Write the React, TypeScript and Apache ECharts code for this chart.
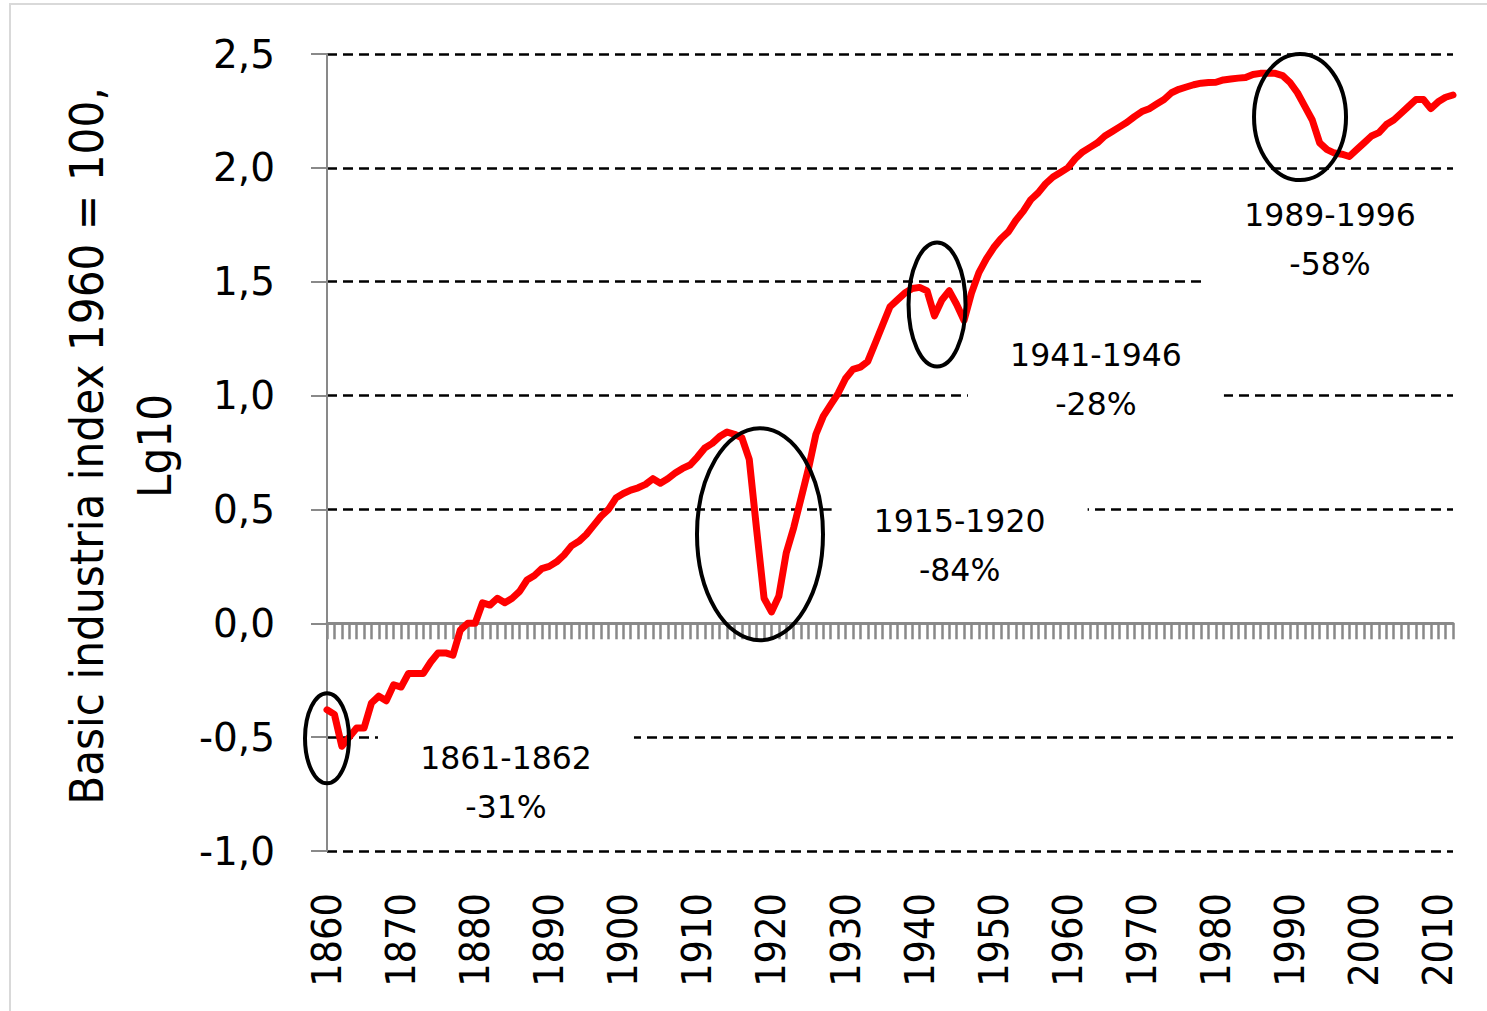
import React, { useEffect, useRef } from 'react';
import * as echarts from 'echarts';

// ---- data ----
const years: string[] = Array.from({ length: 153 }, (_, i) => String(1860 + i));

const lgIndex: number[] = [
  // 1860-1869
  -0.38, -0.40, -0.54, -0.50, -0.46, -0.46, -0.35, -0.32, -0.34, -0.27,
  // 1870-1879
  -0.28, -0.22, -0.22, -0.22, -0.17, -0.13, -0.13, -0.14, -0.03, 0.00,
  // 1880-1889
  0.00, 0.09, 0.08, 0.11, 0.09, 0.11, 0.14, 0.19, 0.21, 0.24,
  // 1890-1899
  0.25, 0.27, 0.30, 0.34, 0.36, 0.39, 0.43, 0.47, 0.50, 0.55,
  // 1900-1909
  0.57, 0.585, 0.595, 0.61, 0.635, 0.615, 0.635, 0.66, 0.68, 0.695,
  // 1910-1919
  0.73, 0.77, 0.79, 0.82, 0.84, 0.83, 0.815, 0.72, 0.41, 0.11,
  // 1920-1929
  0.05, 0.12, 0.31, 0.42, 0.55, 0.68, 0.83, 0.91, 0.96, 1.01,
  // 1930-1939
  1.075, 1.115, 1.125, 1.15, 1.23, 1.31, 1.39, 1.42, 1.45, 1.47,
  // 1940-1949
  1.475, 1.46, 1.35, 1.42, 1.46, 1.40, 1.33, 1.45, 1.54, 1.60,
  // 1950-1959
  1.65, 1.69, 1.72, 1.77, 1.81, 1.86, 1.89, 1.93, 1.96, 1.98,
  // 1960-1969
  2.00, 2.04, 2.07, 2.09, 2.11, 2.14, 2.16, 2.18, 2.20, 2.225,
  // 1970-1979
  2.247, 2.26, 2.28, 2.30, 2.33, 2.345, 2.355, 2.365, 2.372, 2.375,
  // 1980-1989
  2.376, 2.386, 2.39, 2.394, 2.397, 2.41, 2.415, 2.415, 2.415, 2.405,
  // 1990-1999
  2.375, 2.33, 2.27, 2.21, 2.11, 2.08, 2.065, 2.06, 2.05, 2.08,
  // 2000-2009
  2.11, 2.14, 2.155, 2.19, 2.21, 2.24, 2.27, 2.30, 2.30, 2.26,
  // 2010-2012
  2.29, 2.31, 2.32,
];

const yTickValues: number[] = [-1, -0.5, 0, 0.5, 1, 1.5, 2, 2.5];

const noteTexts: string[][] = [
  ['1861-1862', '-31%'],
  ['1915-1920', '-84%'],
  ['1941-1946', '-28%'],
  ['1989-1996', '-58%'],
];
// anchor of each note: [category index, value]
const noteAnchors: number[][] = [
  [24.16, -0.699],
  [85.4, 0.3405],
  [103.8, 1.07],
  [135.4, 1.685],
];
// ellipse centre [category index, value] and radii in px
const ellipseAnchors: number[][] = [
  [0, -0.505],
  [58.45, 0.391],
  [82.35, 1.40],
  [131.35, 2.223],
];
const ellipseRadii: number[][] = [
  [22, 45],
  [63, 106],
  [28.5, 62],
  [46, 63],
];

const GRAY = '#898989';

export default function App() {
  const ref = useRef<HTMLDivElement>(null);

  useEffect(() => {
    if (!ref.current) return;
    const chart = echarts.init(ref.current, null, { renderer: 'svg' });

    const gridColors = yTickValues.map((v) => (v === 0 ? 'rgba(0,0,0,0)' : '#000000'));

    chart.setOption({
      animation: false,
      backgroundColor: '#ffffff',
      grid: { left: 327, right: 34, top: 54, bottom: 160, containLabel: false },
      xAxis: [
        {
          type: 'category',
          data: years,
          boundaryGap: false,
          position: 'bottom',
          axisLine: { show: false, onZero: false },
          axisTick: { show: false },
          splitLine: { show: false },
          axisLabel: {
            interval: 9,
            rotate: 90,
            margin: 42,
            fontSize: 41,
            fontFamily: "'DejaVu Sans Condensed', 'Liberation Sans Narrow', 'DejaVu Sans', sans-serif",
            color: '#000',
          },
        },
        {
          type: 'category',
          data: years,
          boundaryGap: false,
          position: 'bottom',
          axisLine: { show: true, onZero: true, lineStyle: { color: GRAY, width: 3 } },
          axisTick: { show: true, interval: 0, length: 16, lineStyle: { color: GRAY, width: 2.5 } },
          axisLabel: { show: false },
          splitLine: { show: false },
        },
      ],
      yAxis: {
        type: 'value',
        min: -1,
        max: 2.5,
        interval: 0.5,
        axisLine: { show: true, lineStyle: { color: GRAY, width: 2 } },
        axisTick: { show: true, length: 16, lineStyle: { color: GRAY, width: 2 } },
        axisLabel: {
          margin: 52,
          fontSize: 39,
          fontFamily: "'DejaVu Sans', sans-serif",
          color: '#000',
          formatter: (v: number) => v.toFixed(1).replace('.', ','),
        },
        splitLine: {
          show: true,
          lineStyle: { color: gridColors, width: 2.5, type: [10, 6] },
        },
      },
      series: [
        {
          type: 'line',
          data: lgIndex,
          xAxisIndex: 0,
          yAxisIndex: 0,
          showSymbol: false,
          symbol: 'none',
          z: 10,
          lineStyle: { color: '#ff0000', width: 7, join: 'round', cap: 'round' },
        },
      ],
    });

    const toPx = (idx: number, v: number): number[] => {
      const i0 = Math.max(0, Math.min(years.length - 2, Math.floor(idx)));
      const f = idx - i0;
      const p0 = chart.convertToPixel({ seriesIndex: 0 }, [i0, v]) as number[];
      const p1 = chart.convertToPixel({ seriesIndex: 0 }, [i0 + 1, v]) as number[];
      return [p0[0] + (p1[0] - p0[0]) * f, p0[1]];
    };

    const elements: any[] = [];
    elements.push({
      type: 'rect',
      silent: true,
      z: 0,
      shape: { x: 10, y: 4, width: 1600, height: 1100 },
      style: { fill: 'transparent', stroke: '#d9d9d9', lineWidth: 2 },
    });
    elements.push({
      type: 'text',
      silent: true,
      x: 120,
      y: 446,
      rotation: Math.PI / 2,
      z: 5,
      style: {
        text: 'Basic industria index 1960 = 100,\nLg10',
        fontSize: 47,
        fontFamily: "'DejaVu Sans Condensed', 'Liberation Sans Narrow', 'DejaVu Sans', sans-serif",
        align: 'center',
        verticalAlign: 'middle',
        lineHeight: 68,
        fill: '#000',
      },
    });

    noteTexts.forEach((lines, i) => {
      const [px, py] = toPx(noteAnchors[i][0], noteAnchors[i][1]);
      elements.push({
        type: 'rect',
        silent: true,
        z: 5,
        shape: { x: px - 128, y: py - 49, width: 256, height: 98 },
        style: { fill: '#ffffff' },
      });
      elements.push({
        type: 'text',
        silent: true,
        z: 6,
        x: px,
        y: py,
        style: {
          text: lines.join('\n'),
          fontSize: 31.5,
          fontFamily: "'DejaVu Sans', sans-serif",
          align: 'center',
          verticalAlign: 'middle',
          lineHeight: 49,
          fill: '#000',
        },
      });
    });

    ellipseAnchors.forEach((a, i) => {
      const [cx, cy] = toPx(a[0], a[1]);
      elements.push({
        type: 'ellipse',
        silent: true,
        z: 20,
        shape: { cx, cy, rx: ellipseRadii[i][0], ry: ellipseRadii[i][1] },
        style: { fill: 'transparent', stroke: '#000', lineWidth: 4 },
      });
    });

    chart.setOption({ graphic: { elements } });

    return () => {
      chart.dispose();
    };
  }, []);

  return (
    <div
      ref={ref}
      style={{ position: 'absolute', left: 0, top: 0, width: 1487, height: 1011 }}
    />
  );
}
